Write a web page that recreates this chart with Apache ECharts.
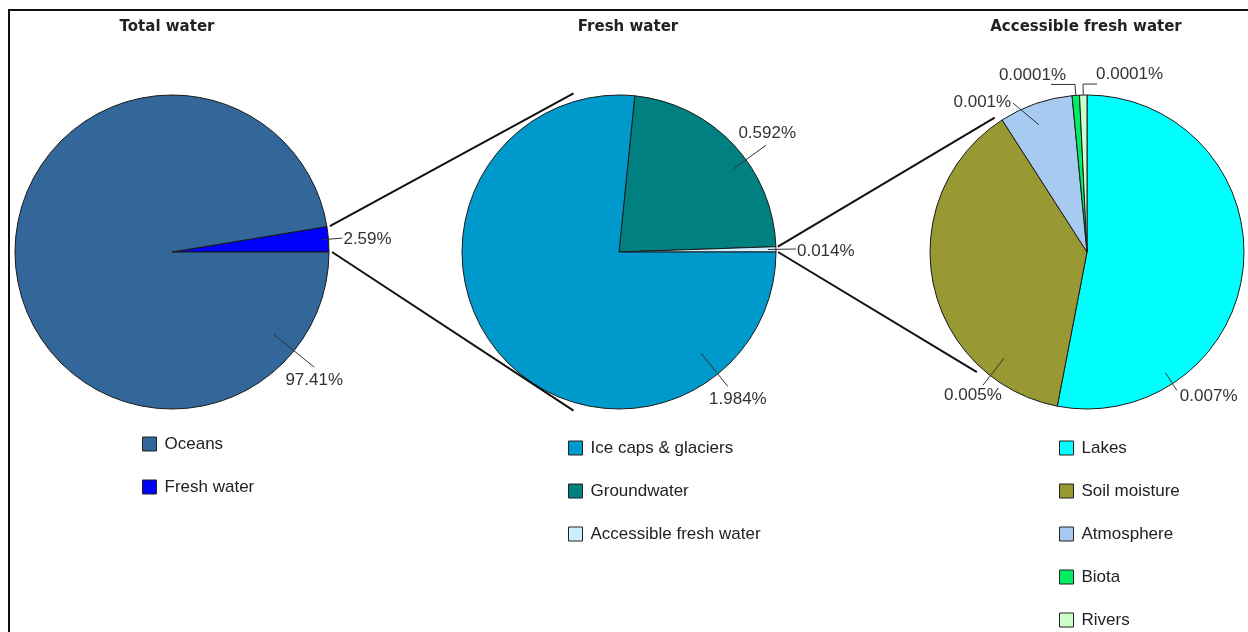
<!DOCTYPE html>
<html><head><meta charset="utf-8">
<script src="https://cdn.jsdelivr.net/npm/echarts@6/dist/echarts.min.js"></script>
<style>html,body{margin:0;padding:0;background:#fff}#c{width:1248px;height:632px}</style>
</head><body><div id="c"></div>
<script>
// ---- data ----
const titles = ['Total water', 'Fresh water', 'Accessible fresh water'];
const totalNames = ['Oceans', 'Fresh water'];
const totalValues = [97.41, 2.59];
const freshNames = ['Ice caps & glaciers', 'Groundwater', 'Accessible fresh water'];
const freshValues = [1.984, 0.592, 0.014];
const accessNames = ['Lakes', 'Soil moisture', 'Atmosphere', 'Biota', 'Rivers'];
const accessValues = [0.007, 0.005, 0.001, 0.0001, 0.0001];

// ---- styles / layout ----
const totalColors = ['#336699', '#0000FF'];
const freshColors = ['#0099CC', '#008080', '#CCEEFF'];
const accessColors = ['#00FFFF', '#999933', '#A6CAF0', '#00EE66', '#CCFFCC'];
const R = 157;
const FONT = 'Liberation Sans, Arial, sans-serif';

const pies = [
  { names: totalNames, values: totalValues, colors: totalColors, order: [1, 0], zeroAfter: 1, cx: 172, cy: 252,
    legend: { left: 142, top: 435.5 }, titleX: 167,
    labels: {
      'Oceans': { a0: -39, r0: -26, r1: 26, ax: 0, ay: 5, align: 'center', va: 'top' },
      'Fresh water': { r0: -7, r1: 14, ax: 1, ay: 1, align: 'left', va: 'middle' }
    } },
  { names: freshNames, values: freshValues, colors: freshColors, order: [1, 2, 0], zeroAfter: 2, cx: 619, cy: 252,
    legend: { left: 568, top: 439.5 }, titleX: 628,
    labels: {
      'Groundwater': { a0: 36, r0: -16, r1: 25, ax: 1, ay: -3, align: 'center', va: 'bottom' },
      'Accessible fresh water': { r0: -8, r1: 20, ax: 1, ay: 2, align: 'left', va: 'middle' },
      'Ice caps & glaciers': { a0: -51, r0: -27, r1: 16, ax: 10, ay: 4, align: 'center', va: 'top' }
    } },
  { names: accessNames, values: accessValues, colors: accessColors, order: [0, 1, 2, 3, 4], fixedStart: 90, cx: 1087, cy: 252,
    legend: { left: 1059, top: 439.5 }, titleX: 1086,
    labels: {
      'Lakes': { a0: -57, r0: -13, r1: 8, ax: 3, ay: 6, align: 'left', va: 'middle' },
      'Soil moisture': { a0: -128, r0: -22, r1: 12, ax: -10, ay: 2, align: 'center', va: 'top' },
      'Atmosphere': { a0: 110.7, a1: 116.4, r0: -21, r1: 9, ax: -2, ay: -1, align: 'right', va: 'middle' },
      'Biota': { r0: 0, r1: 11, hx: -24, ax: 15, ay: -1, align: 'right', va: 'bottom' },
      'Rivers': { r0: 0, r1: 11, hx: 14, ax: -1, ay: -1, align: 'left', va: 'bottom' }
    } }
];

function polar(p, ang, r) {
  const a = ang * Math.PI / 180;
  return [p.cx + r * Math.cos(a), p.cy - r * Math.sin(a)];
}

// compute angles from data
pies.forEach(p => {
  const total = p.values.reduce((s, v) => s + v, 0);
  p.drawNames = p.order.map(i => p.names[i]);
  p.drawValues = p.order.map(i => p.values[i]);
  p.drawColors = p.order.map(i => p.colors[i]);
  if (p.fixedStart != null) p.startAngle = p.fixedStart;
  else {
    let s = 0; for (let k = 0; k < p.zeroAfter; k++) s += p.drawValues[k];
    p.startAngle = s / total * 360;
  }
  p.edges = {}; p.mids = [];
  let cum = 0;
  p.drawValues.forEach((v, k) => {
    const a = p.startAngle - cum / total * 360;
    cum += v;
    const b = p.startAngle - cum / total * 360;
    p.edges[p.drawNames[k]] = [a, b];
    p.mids.push((a + b) / 2);
  });
});

function leader(p, k) {
  const c = p.labels[p.drawNames[k]];
  const a0 = c.a0 != null ? c.a0 : p.mids[k];
  const a1 = c.a1 != null ? c.a1 : a0;
  const p0 = polar(p, a0, R + c.r0);
  const p1 = polar(p, a1, R + c.r1);
  const p2 = [p1[0] + (c.hx || 0), p1[1]];
  return { pts: [p0, p1, p2], c: c };
}

const series = pies.map((p, si) => ({
  type: 'pie',
  center: [p.cx, p.cy],
  radius: R,
  startAngle: p.startAngle,
  clockwise: true,
  avoidLabelOverlap: false,
  animation: false,
  data: p.drawNames.map((n, k) => ({ name: n, value: p.drawValues[k], itemStyle: { color: p.drawColors[k] } })),
  itemStyle: { borderColor: '#1a1a1a', borderWidth: 1 },
  emphasis: { disabled: true },
  label: {
    show: true, position: 'outside',
    formatter: prm => String(prm.value) + '%',
    fontFamily: FONT, fontSize: 17, color: '#333'
  },
  labelLine: { show: false },
  labelLayout: function (params) {
    const L = leader(p, params.dataIndex);
    const last = L.pts[2];
    return { x: last[0] + L.c.ax, y: last[1] + L.c.ay, align: L.c.align, verticalAlign: L.c.va };
  }
}));

const legends = pies.map((p, i) => ({
  orient: 'vertical', left: p.legend.left, top: p.legend.top, padding: 0,
  height: 200,
  data: p.names, icon: 'rect', itemWidth: 14, itemHeight: 14, itemGap: 26,
  selectedMode: false,
  itemStyle: { borderColor: '#222', borderWidth: 1 },
  textStyle: { fontFamily: FONT, fontSize: 17, color: '#222', padding: [0, 0, 0, 3] }
}));

const graphics = [];
// label leader lines (drawn above the slices)
pies.forEach(p => {
  p.drawNames.forEach((n, k) => {
    const L = leader(p, k);
    graphics.push({ type: 'polyline', shape: { points: L.pts }, style: { stroke: '#333', lineWidth: 1, fill: null }, z: 10 });
  });
});
// connector lines between pies (computed from slice geometry)
function connector(pa, pb, sliceName, angUpper, angLower, rOutA, rOutB) {
  const e = pa.edges[sliceName];
  const up = Math.max(e[0], e[1]), lo = Math.min(e[0], e[1]);
  [[up, angUpper], [lo, angLower]].forEach(([a, b]) => {
    const s = polar(pa, a, R + rOutA), t = polar(pb, b, R + rOutB);
    graphics.push({ type: 'line', shape: { x1: s[0], y1: s[1], x2: t[0], y2: t[1] }, style: { stroke: '#111', lineWidth: 2 }, z: 10 });
  });
}
connector(pies[0], pies[1], 'Fresh water', 106, -106, 3, 8);
connector(pies[1], pies[2], 'Accessible fresh water', 124.5, -132.5, 2, 6);

pies.forEach((p, i) => {
  graphics.push({ type: 'text', x: p.titleX, y: 27, style: { text: titles[i], align: 'center', verticalAlign: 'middle', font: 'bold 15px "DejaVu Sans", sans-serif', fill: '#222' } });
});
// frame
graphics.push({ type: 'line', shape: { x1: 8, y1: 10, x2: 1248, y2: 10 }, style: { stroke: '#111', lineWidth: 2 } });
graphics.push({ type: 'line', shape: { x1: 9, y1: 9, x2: 9, y2: 632 }, style: { stroke: '#111', lineWidth: 2 } });

const chart = echarts.init(document.getElementById('c'), null, { renderer: 'canvas' });
chart.setOption({
  backgroundColor: '#fff',
  animation: false,
  legend: legends,
  series: series,
  graphic: graphics
});
</script>
</body></html>
